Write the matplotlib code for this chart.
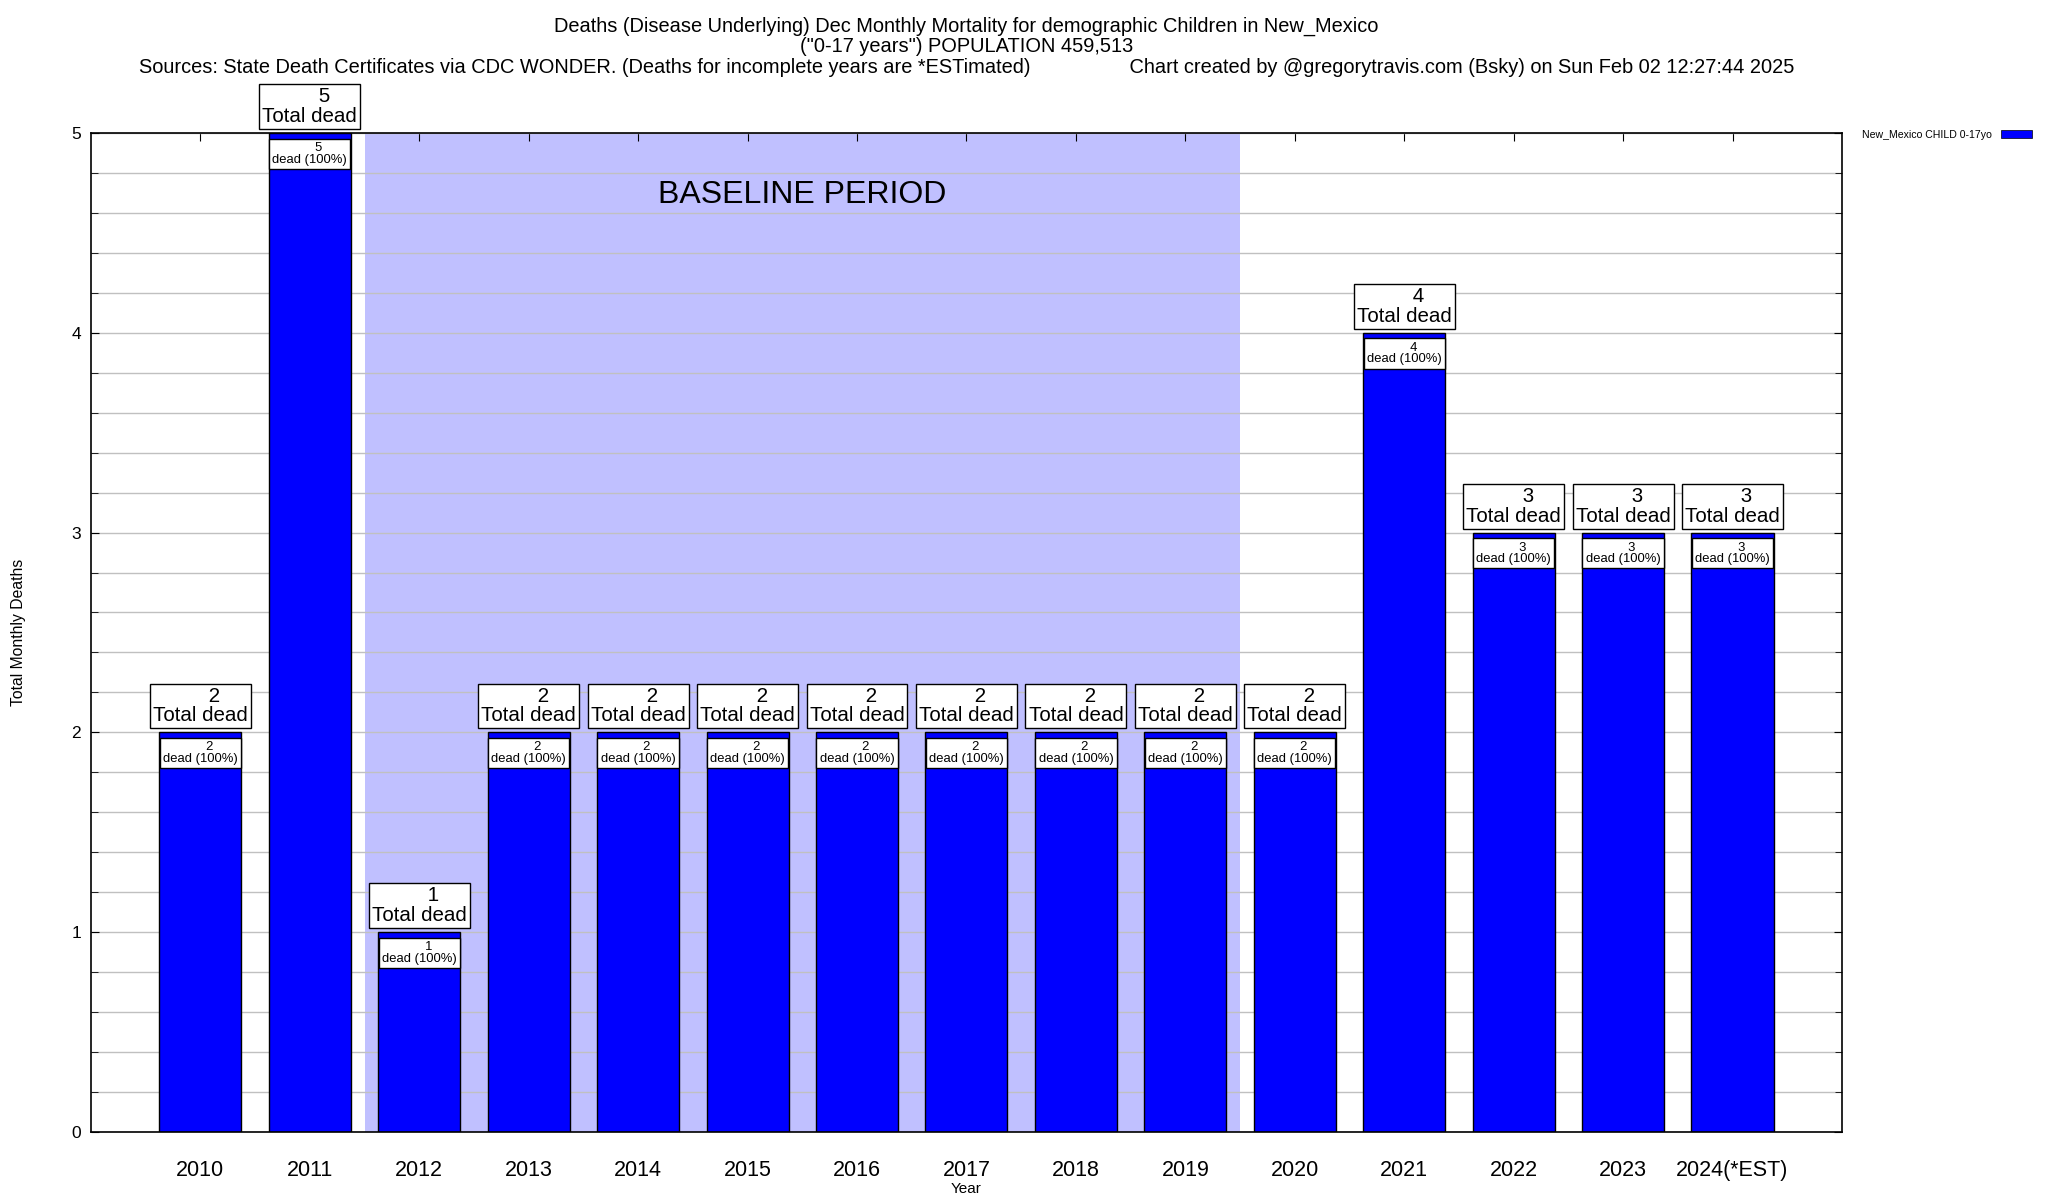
import numpy as np
import matplotlib.pyplot as plt
from matplotlib.patches import Patch

plt.rcParams['font.family'] = ['Liberation Sans', 'DejaVu Sans']

# data
years = ['2010', '2011', '2012', '2013', '2014', '2015', '2016', '2017',
         '2018', '2019', '2020', '2021', '2022', '2023', '2024(*EST)']
deaths = [2, 5, 1, 2, 2, 2, 2, 2, 2, 2, 2, 4, 3, 3, 3]
pct = [100] * len(deaths)
baseline_start, baseline_end = '2012', '2019'
series_label = 'New_Mexico CHILD 0-17yo'

title = ('Deaths (Disease Underlying) Dec Monthly Mortality for demographic Children in New_Mexico\n'
         '("0-17 years") POPULATION 459,513\n'
         'Sources: State Death Certificates via CDC WONDER. (Deaths for incomplete years are *ESTimated)'
         '                  Chart created by @gregorytravis.com (Bsky) on Sun Feb 02 12:27:44 2025')

fig = plt.figure(figsize=(20.48, 12), dpi=100)
ax = fig.add_axes([0.0444, 0.0567, 0.855, 0.8325])

x = np.arange(len(years))
b0 = years.index(baseline_start) - 0.5
b1 = years.index(baseline_end) + 0.5

# baseline shading
ax.axvspan(b0, b1, color='#c0c0ff', zorder=0, lw=0)
ax.text((b0 + b1) / 2, 4.69, 'BASELINE PERIOD', ha='center', va='center',
        fontsize=23, zorder=1)

ax.bar(x, deaths, width=0.75, color='#0000ff', edgecolor='black',
       linewidth=1, zorder=3)

for xi, d, p in zip(x, deaths, pct):
    ax.annotate(f'     {d}\nTotal dead', xy=(xi, d), xytext=(0, 7),
                textcoords='offset pixels', ha='center', va='bottom',
                fontsize=14.8, linespacing=1.05, annotation_clip=False,
                bbox=dict(boxstyle='square,pad=0.15', fc='white', ec='black', lw=1),
                zorder=5)
    ax.annotate(f'     {d}\ndead ({p}%)', xy=(xi, d), xytext=(0, -9),
                textcoords='offset pixels', ha='center', va='top',
                fontsize=9.4, linespacing=0.95, annotation_clip=False,
                bbox=dict(boxstyle='square,pad=0.25', fc='white', ec='black', lw=1),
                zorder=5)

ax.set_xlim(-1, len(years))
ax.set_ylim(0, 5)
ax.set_yticks(range(6))
ax.set_yticks(np.arange(0, 5.01, 0.2), minor=True)
ax.set_xticks(x)
ax.set_xticklabels(years, fontsize=15.5)
ax.tick_params(axis='y', labelsize=12.5, direction='in', length=6, pad=7,
               right=True)
ax.tick_params(axis='y', which='minor', direction='in', length=5, right=True)
ax.tick_params(axis='x', direction='in', length=6, top=True, bottom=False, pad=20)
ax.grid(axis='y', which='both', color='#c0c0c0', lw=1)
ax.set_axisbelow(False)
for s in ax.spines.values():
    s.set_linewidth(1.2)
    s.set_zorder(6)

ax.set_xlabel('Year', fontsize=11, labelpad=1)
ax.set_ylabel('Total Monthly Deaths', fontsize=11.3, labelpad=33)

ax.set_title(title, fontsize=14.4, linespacing=1.12, pad=43)

fig.legend(handles=[Patch(facecolor='#0000ff', edgecolor='black', lw=0.5)],
           labels=[series_label], loc='upper right',
           bbox_to_anchor=(0.997, 0.9), frameon=False, markerfirst=False,
           fontsize=7.6, handlelength=3, handleheight=0.7)

fig.savefig('out.png', dpi=100)
